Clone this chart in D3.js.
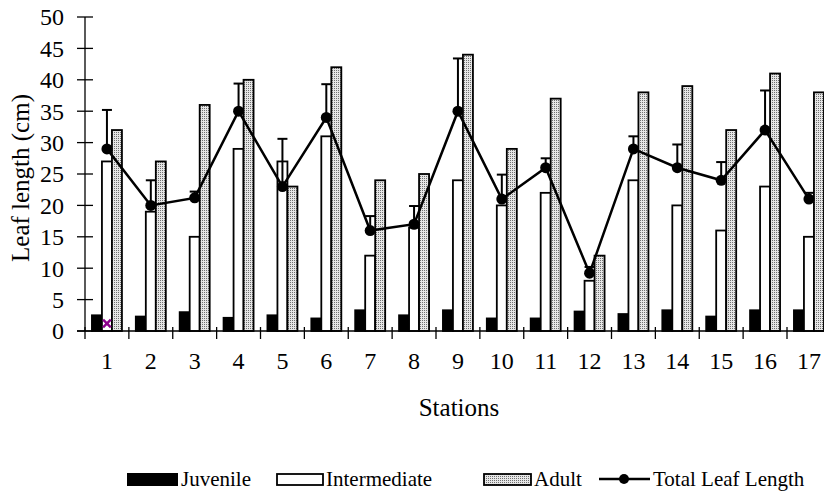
<!DOCTYPE html>
<html><head><meta charset="utf-8">
<script src="https://cdn.jsdelivr.net/npm/d3@7"></script>
<style>body{margin:0;background:#fff;} svg{display:block;} text{font-family:"Liberation Serif","Times New Roman",serif;fill:#000;}</style>
</head><body><svg id="c" width="824" height="495"></svg>
<script>
const stations = ["1","2","3","4","5","6","7","8","9","10","11","12","13","14","15","16","17"];
const juvenile = [2.5,2.3,3.0,2.1,2.5,2.0,3.3,2.5,3.3,2.0,2.0,3.1,2.7,3.3,2.3,3.3,3.3];
const intermediate = [27,19,15,29,27,31,12,16.5,24,20,22,8,24,20,16,23,15];
const adult = [32,27,36,40,23,42,24,25,44,29,37,12,38,39,32,41,38];
const totalLeaf = [29,20,21.2,35,23,34,16,17,35,21,26,9.2,29,26,24,32,21];
const totalError = [6.2,4,1,4.4,7.6,5.3,2.3,2.9,8.4,3.9,1.5,1,2,3.7,2.9,6.3,1];
const yTicks = [0,5,10,15,20,25,30,35,40,45,50];
const strayMarker = [{station:"1", value:1.2}];

const svg = d3.select("#c");
const x = d3.scaleBand().domain(stations).range([85, 85 + 43.875*17]).padding(0);
const y = d3.scaleLinear().domain([0,50]).range([331,17]);
const bw = 10;

const defs = svg.append("defs");
const pat = defs.append("pattern").attr("id","dots").attr("patternUnits","userSpaceOnUse").attr("width",2).attr("height",2);
pat.append("rect").attr("width",2).attr("height",2).attr("fill","#e6e6e6");
pat.append("rect").attr("width",1).attr("height",1).attr("fill","#707070");

// bars
const series = [
  {name:"Juvenile", vals:juvenile, off:-15, fill:"#000"},
  {name:"Intermediate", vals:intermediate, off:-5, fill:"#fff"},
  {name:"Adult", vals:adult, off:5, fill:"url(#dots)"}
];
series.forEach(s=>{
  svg.append("g").selectAll("rect").data(stations).join("rect")
    .attr("x",(d)=>x(d)+x.bandwidth()/2+s.off)
    .attr("y",(d,i)=>y(s.vals[i]))
    .attr("width",bw)
    .attr("height",(d,i)=>y(0)-y(s.vals[i]))
    .attr("fill",s.fill).attr("stroke","#000").attr("stroke-width",1.8);
});

// axes
const yAxis = svg.append("g");
yAxis.append("line").attr("x1",85).attr("x2",85).attr("y1",y(50)).attr("y2",y(0)).attr("stroke","#000").attr("stroke-width",1.3);
yAxis.selectAll("line.t").data(yTicks).join("line").attr("class","t")
  .attr("x1",77).attr("x2",93).attr("y1",d=>y(d)).attr("y2",d=>y(d)).attr("stroke","#000").attr("stroke-width",1.3);
yAxis.selectAll("text").data(yTicks).join("text")
  .attr("x",64).attr("y",d=>y(d)).attr("dy","0.35em").attr("text-anchor","end")
  .attr("font-size",24).text(d=>d);

const xAxis = svg.append("g");
xAxis.append("line").attr("x1",77).attr("x2",824).attr("y1",y(0)).attr("y2",y(0)).attr("stroke","#000").attr("stroke-width",1.3);
xAxis.selectAll("line.t").data(stations).join("line").attr("class","t")
  .attr("x1",d=>x(d)).attr("x2",d=>x(d)).attr("y1",y(0)-4).attr("y2",y(0)+8).attr("stroke","#000").attr("stroke-width",1.3);
xAxis.selectAll("text").data(stations).join("text")
  .attr("x",d=>x(d)+x.bandwidth()/2).attr("y",369).attr("text-anchor","middle")
  .attr("font-size",24).text(d=>d);

// error bars
const eg = svg.append("g").attr("stroke","#000").attr("stroke-width",2);
stations.forEach((d,i)=>{
  const cx = x(d)+x.bandwidth()/2;
  eg.append("line").attr("x1",cx).attr("x2",cx).attr("y1",y(totalLeaf[i])).attr("y2",y(totalLeaf[i]+totalError[i]));
  eg.append("line").attr("x1",cx-5).attr("x2",cx+5).attr("y1",y(totalLeaf[i]+totalError[i])).attr("y2",y(totalLeaf[i]+totalError[i]));
});

// line
const line = d3.line().x((d,i)=>x(stations[i])+x.bandwidth()/2).y(d=>y(d));
svg.append("path").datum(totalLeaf).attr("d",line).attr("fill","none").attr("stroke","#000").attr("stroke-width",2.5);
svg.append("g").selectAll("circle").data(totalLeaf).join("circle")
  .attr("cx",(d,i)=>x(stations[i])+x.bandwidth()/2).attr("cy",d=>y(d)).attr("r",5.5).attr("fill","#000");

// stray marker
svg.append("g").selectAll("path").data(strayMarker).join("path")
  .attr("transform",d=>`translate(${x(d.station)+x.bandwidth()/2},${y(d.value)})`)
  .attr("d",d3.symbol().type(d3.symbolX).size(40)).attr("stroke","#8B008B").attr("stroke-width",2.5).attr("fill","none");

// titles
svg.append("text").attr("x",459).attr("y",416).attr("text-anchor","middle").attr("font-size",25).text("Stations");
svg.append("text").attr("transform","translate(29,178) rotate(-90)").attr("text-anchor","middle").attr("font-size",25).text("Leaf length (cm)");

// legend
const lg = svg.append("g");
const ly = 473;
lg.append("rect").attr("x",127).attr("y",ly).attr("width",51).attr("height",13).attr("fill","#000");
lg.append("text").attr("x",181).attr("y",ly+13).attr("font-size",21).text("Juvenile");
lg.append("rect").attr("x",277).attr("y",ly+1).attr("width",46).attr("height",11).attr("fill","#fff").attr("stroke","#000").attr("stroke-width",1.8);
lg.append("text").attr("x",326).attr("y",ly+13).attr("font-size",21).text("Intermediate");
lg.append("rect").attr("x",484).attr("y",ly+1).attr("width",47).attr("height",11).attr("fill","url(#dots)").attr("stroke","#000").attr("stroke-width",1.8);
lg.append("text").attr("x",534).attr("y",ly+13).attr("font-size",21).text("Adult");
lg.append("line").attr("x1",599).attr("x2",650).attr("y1",ly+6).attr("y2",ly+6).attr("stroke","#000").attr("stroke-width",2.5);
lg.append("circle").attr("cx",624).attr("cy",ly+6).attr("r",5).attr("fill","#000");
lg.append("text").attr("x",653).attr("y",ly+13).attr("font-size",21).text("Total Leaf Length");
</script></body></html>
